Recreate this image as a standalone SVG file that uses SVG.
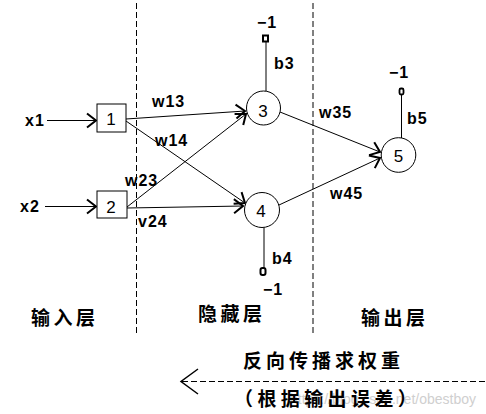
<svg xmlns="http://www.w3.org/2000/svg" width="486" height="414" viewBox="0 0 486 414">
<style>
.lbl{font-family:"Liberation Sans",Arial,sans-serif;font-size:16px;font-weight:bold;fill:#000;letter-spacing:1px}
.num{font-family:"Liberation Sans",Arial,sans-serif;font-size:17px;fill:#000;text-anchor:middle}
.cjk{font-family:"Noto Sans CJK SC",sans-serif;font-size:19px;font-weight:bold;fill:#000}
.node{fill:#fff;stroke:#000;stroke-width:1}
.conn{stroke:#000;stroke-width:1;fill:none}
.ah{stroke:#000;stroke-width:2;fill:none}
.sep{stroke:#000;stroke-width:1;stroke-dasharray:6,3}
.wm{font-family:"Liberation Sans",Arial,sans-serif;font-size:14px;fill:#cfcfcf;text-anchor:end}
</style>
<defs>
<marker id="arr" markerUnits="userSpaceOnUse" viewBox="-11 -9 13 18" markerWidth="13" markerHeight="18" refX="0" refY="0" orient="auto" overflow="visible">
<path d="M-9,-7 L0,0 L-9,7" class="ah"/>
</marker>
</defs>
<rect width="486" height="414" fill="#fff"/>

<g id="separators">
<line class="sep" x1="136.5" y1="3" x2="136.5" y2="335"/>
<line class="sep" x1="313" y1="3" x2="313" y2="335"/>
</g>

<g id="connectors">
<line class="conn" x1="47" y1="120.5" x2="96" y2="120.5" marker-end="url(#arr)"/>
<line class="conn" x1="45" y1="206.5" x2="96" y2="206.5" marker-end="url(#arr)"/>
<line class="conn" x1="126" y1="119" x2="245" y2="111" marker-end="url(#arr)"/>
<line class="conn" x1="126" y1="121" x2="245" y2="203" marker-end="url(#arr)"/>
<line class="conn" x1="127" y1="207" x2="246" y2="114" marker-end="url(#arr)"/>
<line class="conn" x1="127" y1="208" x2="243" y2="206" marker-end="url(#arr)"/>
<line class="conn" x1="280" y1="112" x2="380" y2="152" marker-end="url(#arr)"/>
<line class="conn" x1="279" y1="205" x2="380" y2="158" marker-end="url(#arr)"/>
<line class="conn" x1="266" y1="91" x2="266" y2="42"/>
<rect x="263" y="35.5" width="5" height="6" fill="none" stroke="#000" stroke-width="2"/>
<line class="conn" x1="264" y1="227.5" x2="264" y2="268"/>
<rect x="260.5" y="268" width="5" height="7" rx="2" fill="none" stroke="#000" stroke-width="2"/>
<line class="conn" x1="401.5" y1="138" x2="401.5" y2="95"/>
<rect x="399.5" y="88.5" width="4" height="6" rx="1.5" fill="none" stroke="#000" stroke-width="1.8"/>
</g>

<g id="n1"><rect class="node" x="97" y="104" width="29" height="28"/><text class="num" x="111" y="125">1</text></g>
<g id="n2"><rect class="node" x="97" y="191" width="30" height="27"/><text class="num" x="111" y="213">2</text></g>
<g id="n3"><circle class="node" cx="263.5" cy="108" r="17"/><text class="num" x="263" y="116.5">3</text></g>
<g id="n4"><circle class="node" cx="262" cy="210" r="17.5"/><text class="num" x="261" y="217">4</text></g>
<g id="n5"><circle class="node" cx="398.5" cy="155" r="17.3"/><text class="num" x="398.5" y="161.5">5</text></g>

<g id="labels">
<text class="lbl" x="25" y="126">x1</text>
<text class="lbl" x="20" y="212">x2</text>
<text class="lbl" x="152" y="107">w13</text>
<text class="lbl" x="155" y="146">w14</text>
<text class="lbl" x="125" y="186">w23</text>
<text class="lbl" x="138" y="227">v24</text>
<text class="lbl" x="319" y="118">w35</text>
<text class="lbl" x="330" y="199">w45</text>
<text class="lbl" x="257" y="28">−1</text>
<text class="lbl" x="274" y="69">b3</text>
<text class="lbl" x="272" y="264">b4</text>
<text class="lbl" x="263" y="295">−1</text>
<text class="lbl" x="389" y="78">−1</text>
<text class="lbl" x="407" y="124">b5</text>
</g>

<g id="layers">
<text class="cjk" x="31" y="325" letter-spacing="3.5">输入层</text>
<text class="cjk" x="198" y="321" letter-spacing="3.5">隐藏层</text>
<text class="cjk" x="361" y="325" letter-spacing="3.5">输出层</text>
</g>

<g id="backprop">
<text class="wm" x="476" y="404">https://blog.csdn.net/obestboy</text>
<line class="sep" x1="182" y1="381.5" x2="486" y2="381.5"/>
<polyline points="198,369 181,381.5 198,394" fill="none" stroke="#000" stroke-width="1.5"/>
<text class="cjk" x="243" y="368" letter-spacing="4">反向传播求权重</text>
<text class="cjk" x="234" y="406" letter-spacing="4.4">（根据输出误差）</text>
</g>
</svg>
